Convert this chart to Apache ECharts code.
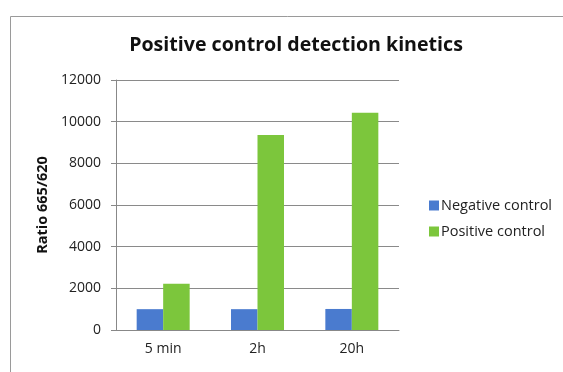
<!DOCTYPE html>
<html>
<head>
<meta charset="utf-8">
<script src="https://cdn.jsdelivr.net/npm/echarts@6/dist/echarts.min.js"></script>
<style>
  html, body { margin: 0; padding: 0; background: #fff; }
  #main { width: 563px; height: 372px; }
</style>
</head>
<body>
<div id="main"></div>
<script>
// data
var timepoints = ['5 min', '2h', '20h'];
var negativeControl = [1000, 1000, 1010];
var positiveControl = [2220, 9360, 10430];
var yTicks = [0, 2000, 4000, 6000, 8000, 10000, 12000];

var myChart = echarts.init(document.getElementById('main'));

var font = 'Open Sans, Lato, sans-serif';

var option = {
    backgroundColor: '#fff',
    animation: false,
    graphic: [{
        // frame around the chart
        type: 'rect',
        shape: { x: 10.5, y: 16.5, width: 560, height: 360 },
        style: { fill: 'none', stroke: '#9a9a9a', lineWidth: 1 }
    }],
    title: {
        text: 'Positive control detection kinetics',
        left: 291,
        textAlign: 'center',
        top: 30,
        textStyle: { fontFamily: font, fontSize: 19.6, fontWeight: 'bold', color: '#111' }
    },
    legend: {
        orient: 'vertical',
        left: 424,
        top: 193,
        itemWidth: 10,
        itemHeight: 10,
        itemGap: 11,
        icon: 'rect',
        data: ['Negative control', 'Positive control'],
        textStyle: { fontFamily: font, fontSize: 14.5, color: '#222', padding: [0, 0, 0, -3] }
    },
    grid: { left: 116, right: 164, top: 80, bottom: 42 },
    xAxis: {
        type: 'category',
        data: timepoints,
        axisLine: { lineStyle: { color: '#888' } },
        axisTick: { show: false },
        axisLabel: { fontFamily: font, fontSize: 14, color: '#222', margin: 12 }
    },
    yAxis: {
        type: 'value',
        min: yTicks[0],
        max: yTicks[yTicks.length - 1],
        interval: 2000,
        name: 'Ratio 665/620',
        nameLocation: 'middle',
        nameGap: 64,
        nameTextStyle: { fontFamily: font, fontSize: 14.5, fontWeight: 'bold', color: '#111' },
        axisLine: { show: true, lineStyle: { color: '#888' } },
        axisTick: { show: true, length: 5, lineStyle: { color: '#888' } },
        splitLine: { lineStyle: { color: '#8a8a8a', width: 1 } },
        axisLabel: {
            fontFamily: font, fontSize: 14, color: '#222', margin: 15,
            formatter: function (v) { return String(v); }
        }
    },
    series: [
        {
            name: 'Negative control',
            type: 'bar',
            data: negativeControl,
            barWidth: 26.5,
            barGap: '0%',
            itemStyle: { color: '#4a7bcf' }
        },
        {
            name: 'Positive control',
            type: 'bar',
            data: positiveControl,
            barWidth: 26.5,
            itemStyle: { color: '#7cc63c' }
        }
    ]
};

myChart.setOption(option);
</script>
</body>
</html>
